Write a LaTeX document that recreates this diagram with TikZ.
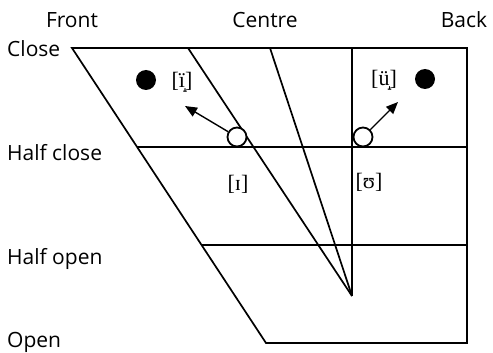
\documentclass[tikz,border=0pt]{standalone}
\usepackage{fontspec}
\setmainfont{Open Sans}
\newfontfamily\ipafont{Liberation Serif}
\usetikzlibrary{arrows.meta}
\begin{document}
\begin{tikzpicture}[x=1pt,y=-1pt,
  grid/.style={line width=1.7pt,line join=miter},
  rowlab/.style={anchor=west,font=\fontsize{21}{22}\selectfont,inner sep=0pt},
  collab/.style={anchor=center,font=\fontsize{21}{22}\selectfont,inner sep=0pt},
  ipa/.style={font=\ipafont\fontsize{22}{23}\selectfont,inner sep=0pt},
  opendot/.style={circle,draw,line width=1.8pt,fill=white,minimum size=19pt,inner sep=0pt},
  fulldot/.style={circle,fill=black,minimum size=20pt,inner sep=0pt},
  arr/.style={line width=1.4pt,-{Triangle[length=12pt,width=10pt]}}]
\useasboundingbox (0,0) rectangle (493,353);
% corners
\coordinate (TL) at (72,48);
\coordinate (TR) at (467,48);
\coordinate (HCL) at (137,147);
\coordinate (HCR) at (467,147);
\coordinate (HOL) at (202,245);
\coordinate (HOR) at (467,245);
\coordinate (BL) at (266,343);
\coordinate (BR) at (467,343);
\coordinate (T1) at (188,48);
\coordinate (T2) at (270,48);
\coordinate (T3) at (352,48);
\coordinate (AP) at (352,296);
% outline
\draw[grid] (TL) -- (TR) -- (BR) -- (BL) -- cycle;
\draw[grid] (HCL) -- (HCR);
\draw[grid] (HOL) -- (HOR);
\draw[grid] (T1) -- (AP);
\draw[grid] (T2) -- (AP);
\draw[grid] (T3) -- (AP);
% dots
\node[opendot] (c1) at (237,137) {};
\node[opendot] (c2) at (363,137) {};
\node[fulldot] (f1) at (146,80) {};
\node[fulldot] (f2) at (425,79) {};
\coordinate (a1) at (185,106);
\coordinate (a2) at (398,102);
\draw[arr] (c1) -- (a1);
\draw[arr] (c2) -- (a2);
% ipa labels
\node[ipa] (l1) at (182,82) {[ï̝]};
\node[ipa] (l2) at (384,80) {[ü̝]};
\node[ipa] (l3) at (238,184) {[ɪ]};
\node[ipa] (l4) at (369,182) {[ʊ]};
% axis labels
\node[collab] (front) at (72,20) {Front};
\node[collab] (centre) at (265,20) {Centre};
\node[collab] (back) at (464,20) {Back};
\node[rowlab] (close) at (7,49) {Close};
\node[rowlab] (hclose) at (7,153) {Half close};
\node[rowlab] (hopen) at (7,259) {Half open};
\node[rowlab] (open) at (7,342) {Open};
\end{tikzpicture}
\end{document}
